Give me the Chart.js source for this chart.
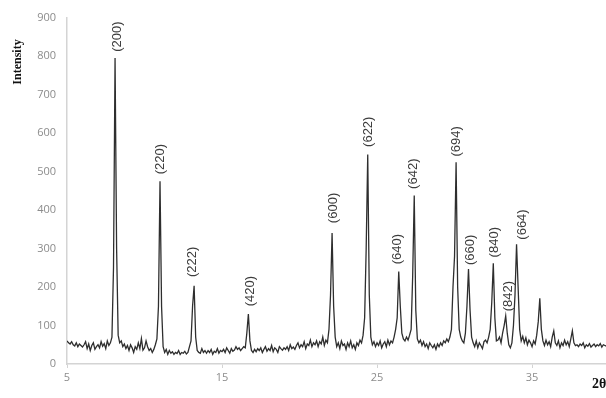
<!DOCTYPE html>
<html>
<head>
<meta charset="utf-8">
<script src="https://cdn.jsdelivr.net/npm/chart.js@4/dist/chart.umd.min.js"></script>
<style>
  html, body { margin: 0; padding: 0; background: #fff; overflow: hidden; }
  #wrap { width: 606px; height: 398px; position: relative; }
</style>
</head>
<body>
<div id="wrap"><canvas id="c" width="606" height="398"></canvas></div>
<script>
// ---- DATA ----
const thetaStart = 5.0;      // first 2θ value of the scan
const thetaStep = 0.1;       // 2θ step between readings
// Intensity readings, one row per degree (5.0–5.9, 6.0–6.9, ...)
const intensity = [
  60,55,52,58,50,47,55,45,52,48,
  44,50,58,40,52,35,48,55,38,45,
  50,42,58,46,53,40,60,48,55,70,
  250,795,300,75,55,60,45,52,40,48,
  35,50,42,30,45,38,55,40,66,36,
  42,60,45,35,40,30,38,50,65,150,
  475,150,45,30,38,25,35,28,32,25,
  30,27,35,25,30,28,33,26,30,45,
  60,150,203,70,35,30,28,40,30,35,
  28,35,30,38,25,33,30,40,28,35,
  32,38,30,42,35,28,40,33,36,45,
  38,42,35,40,45,42,80,130,60,35,
  30,38,32,40,35,42,30,38,45,33,
  40,35,48,32,42,38,30,45,40,36,
  42,38,45,35,50,40,44,38,48,55,
  42,50,45,58,40,52,48,62,45,55,
  50,60,45,58,52,70,48,62,55,90,
  180,340,150,70,45,55,40,60,48,52,
  38,55,45,60,42,50,38,55,48,62,
  55,75,120,300,544,180,70,50,58,45,
  55,48,60,42,52,58,45,62,50,60,
  55,70,90,120,240,150,80,65,60,70,
  62,75,90,230,438,140,65,55,62,48,
  58,45,52,40,55,48,42,50,38,52,
  45,55,48,60,55,65,58,70,90,200,
  280,524,200,90,70,60,55,80,150,247,
  140,70,55,45,60,42,55,48,40,58,
  62,55,70,90,160,262,120,60,62,70,
  55,80,100,125,80,50,42,55,100,180,
  311,200,90,60,72,55,68,50,62,55,
  45,60,52,75,110,171,90,60,48,62,
  50,58,45,70,86,55,48,60,42,55,
  48,62,50,58,45,65,86,55,48,50,
  45,52,48,55,42,50,46,53,44,48,
  52,45,50,47,53,44,50,48,46,50
];
const xTicks = [5, 15, 25, 35];
const yTicks = [0, 100, 200, 300, 400, 500, 600, 700, 800, 900];
const xMin = 5, xMax = 39.77, yMin = 0, yMax = 900;
// Peak annotations (Miller indices)
const peakLabels = ["(200)","(220)","(222)","(420)","(600)","(622)","(640)","(642)","(694)","(660)","(840)","(842)","(664)"];
const peakLabelX = [8.25, 11.0, 13.1, 16.85, 22.16, 24.42, 26.3, 27.32, 30.1, 31.0, 32.55, 33.45, 34.35];
const peakLabelY = [811, 493, 226, 150, 366, 564, 259, 455, 539, 257, 277, 137, 323];
const yTitle = "Intensity";
const xTitle = "2θ";

// ---- BUILD ----
const points = intensity.map((v, i) => ({ x: +(thetaStart + i * thetaStep).toFixed(2), y: v }));

const labelPlugin = {
  id: 'peakLabels',
  afterDatasetsDraw(chart) {
    const { ctx, scales } = chart;
    ctx.save();
    ctx.fillStyle = '#3c3c3c';
    ctx.font = '13px "Liberation Sans", Arial, sans-serif';
    ctx.textAlign = 'left';
    ctx.textBaseline = 'middle';
    peakLabels.forEach((t, i) => {
      const px = scales.x.getPixelForValue(peakLabelX[i]);
      const py = scales.y.getPixelForValue(peakLabelY[i]);
      ctx.save();
      ctx.translate(px, py);
      ctx.rotate(-Math.PI / 2);
      ctx.fillText(t, 0, 0);
      ctx.restore();
    });
    // axis titles
    ctx.fillStyle = '#111';
    ctx.font = 'bold 12px "Liberation Serif", "Times New Roman", serif';
    ctx.save();
    ctx.translate(18, 62);
    ctx.rotate(-Math.PI / 2);
    ctx.textAlign = 'center';
    ctx.fillText(yTitle, 0, 0);
    ctx.restore();
    ctx.font = 'bold 14px "Liberation Serif", "Times New Roman", serif';
    ctx.textAlign = 'left';
    ctx.fillText(xTitle, 592, 384);
    ctx.restore();
  }
};

new Chart(document.getElementById('c'), {
  type: 'line',
  data: {
    datasets: [{
      data: points,
      borderColor: '#2e2e2e',
      borderWidth: 1.3,
      pointRadius: 0,
      tension: 0,
      fill: false
    }]
  },
  options: {
    responsive: false,
    animation: false,
    devicePixelRatio: 1,
    layout: { padding: { top: 10, right: 0, left: 0, bottom: 0 } },
    plugins: { legend: { display: false }, tooltip: { enabled: false } },
    scales: {
      x: {
        type: 'linear',
        min: xMin, max: xMax,
        afterBuildTicks(scale) { scale.ticks = xTicks.map(v => ({ value: v })); },
        afterFit(scale) { scale.height = 34; },
        border: { color: '#d4d4d4', width: 1.5 },
        grid: { display: true, drawOnChartArea: false, drawTicks: true, tickLength: 4, color: '#d4d4d4' },
        ticks: { color: '#8c8c8c', font: { size: 11, family: '"Open Sans", "Liberation Sans", sans-serif' }, padding: 3, maxRotation: 0 }
      },
      y: {
        type: 'linear',
        min: yMin, max: yMax,
        afterBuildTicks(scale) { scale.ticks = yTicks.map(v => ({ value: v })); },
        afterFit(scale) { scale.width = 67; },
        border: { color: '#d4d4d4', width: 1.5 },
        grid: { display: false, drawTicks: false },
        ticks: { color: '#8c8c8c', font: { size: 11, family: '"Open Sans", "Liberation Sans", sans-serif' }, padding: 11 }
      }
    }
  },
  plugins: [labelPlugin]
});
</script>
</body>
</html>
